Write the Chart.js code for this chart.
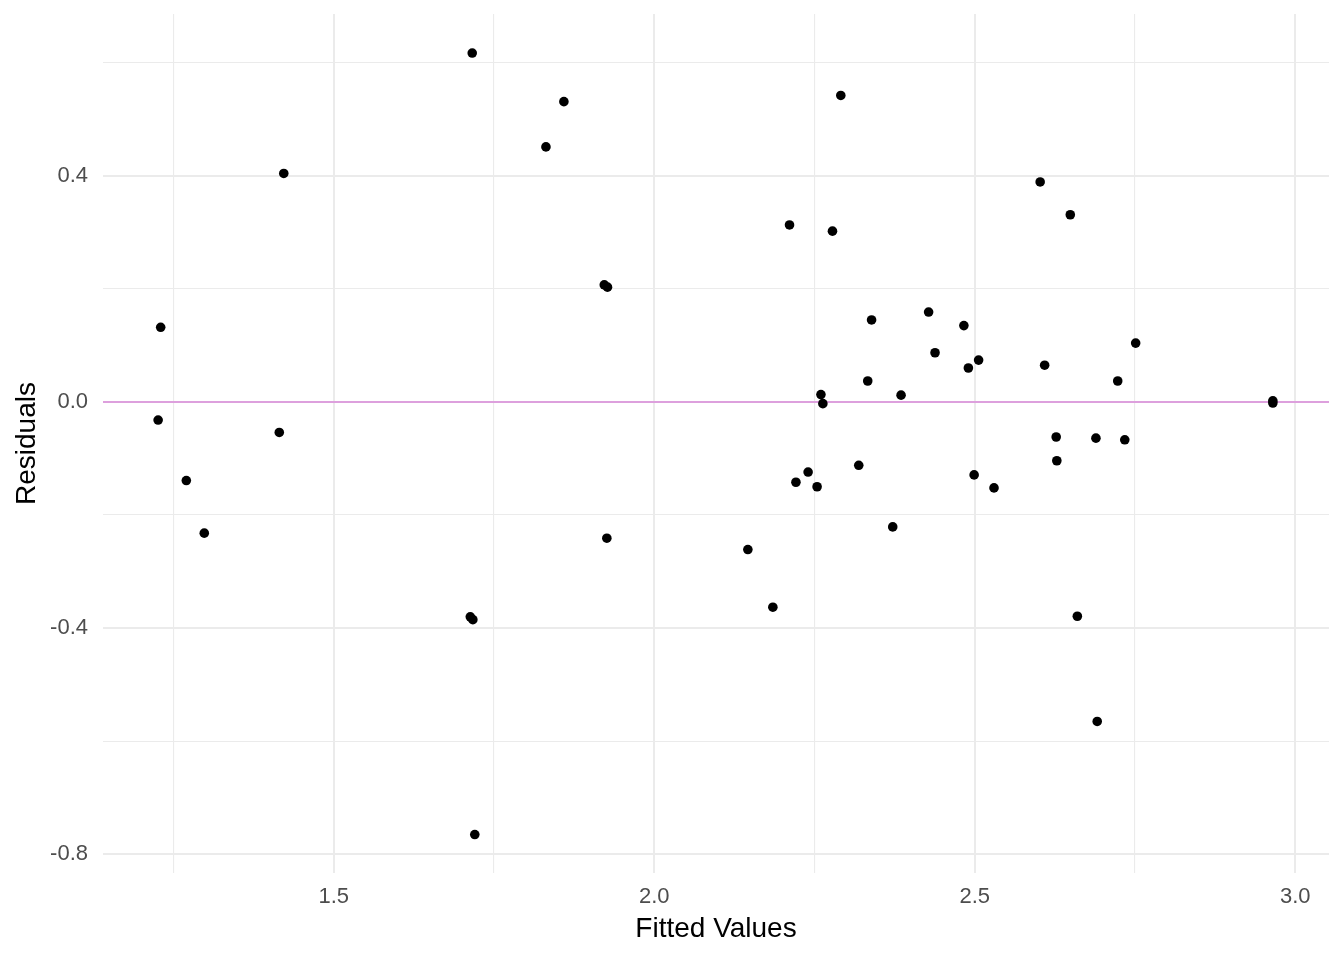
<!DOCTYPE html>
<html lang="en">

<head>
  <meta charset="UTF-8">
  <title>Residuals vs Fitted</title>
  <style>
    body {
      margin: 0;
      background-color: #ffffff;
    }

    #wrap {
      width: 1344px;
      height: 960px;
      position: relative;
    }
  </style>
</head>

<body>
  <div id="wrap">
    <canvas id="residChart"></canvas>
  </div>
  <script src="https://cdn.jsdelivr.net/npm/chart.js@4.4.0/dist/chart.umd.min.js"></script>
  <script>
    // values
    const fittedValues = [
      1.230, 1.226, 1.270, 1.298, 1.422, 1.415, 1.716, 1.713, 1.717, 1.720,
      1.831, 1.859, 1.922, 1.927, 1.926, 2.146, 2.185, 2.211, 2.221, 2.240,
      2.254, 2.260, 2.263, 2.278, 2.291, 2.319, 2.333, 2.339, 2.372, 2.385,
      2.428, 2.438, 2.483, 2.490, 2.499, 2.506, 2.530, 2.602, 2.609, 2.627,
      2.628, 2.649, 2.660, 2.689, 2.691, 2.723, 2.734, 2.751, 2.965, 2.965
    ]
    const residuals = [
      0.132, -0.032, -0.139, -0.232, 0.404, -0.054, 0.617, -0.380, -0.385, -0.765,
      0.451, 0.531, 0.207, 0.203, -0.241, -0.261, -0.363, 0.313, -0.142, -0.124,
      -0.150, 0.013, -0.003, 0.302, 0.542, -0.112, 0.037, 0.145, -0.221, 0.012,
      0.159, 0.087, 0.135, 0.060, -0.129, 0.074, -0.152, 0.389, 0.065, -0.062,
      -0.104, 0.331, -0.379, -0.064, -0.565, 0.037, -0.067, 0.104, 0.002, -0.002
    ]

    // axis breaks
    const xMajor = [1.5, 2.0, 2.5, 3.0]
    const xMinor = [1.25, 1.75, 2.25, 2.75]
    const yMajor = [-0.8, -0.4, 0.0, 0.4]
    const yMinor = [-0.6, -0.2, 0.2, 0.6]
    const xLimits = [1.140, 3.0526]
    const yLimits = [-0.833, 0.686]

    const isIn = (list, v) => list.some(m => Math.abs(m - v) < 1e-6)
    const allBreaks = (a, b) => a.concat(b).sort((p, q) => p - q)

    const points = fittedValues.map((x, i) => ({ x: x, y: residuals[i] }))
    const zeroLine = [{ x: xLimits[0], y: 0 }, { x: xLimits[1], y: 0 }]

    const tickFont = { family: "'Liberation Sans', Arial, sans-serif", size: 22 }
    const titleFont = { family: "'Liberation Sans', Arial, sans-serif", size: 28, lineHeight: 1 }

    const gridOpts = (major) => ({
      color: '#EBEBEB',
      lineWidth: ctx => (ctx.tick && isIn(major, ctx.tick.value)) ? 2 : 1.1,
      drawTicks: false
    })

    // fixed axis sizes, and no extra label overhang padding
    const fixAxis = (scale) => {
      if (scale.isHorizontal()) scale.height = 87
      else scale.width = 103
      scale.paddingTop = 0
      scale.paddingBottom = 0
      scale.paddingLeft = 0
      scale.paddingRight = 0
    }

    const ctx = document.getElementById('residChart').getContext('2d')
    const residChart = new Chart(ctx, {
      type: 'scatter',
      data: {
        datasets: [
          {
            label: 'residuals',
            data: points,
            backgroundColor: '#000000',
            borderWidth: 0,
            pointRadius: 4.8,
            pointHoverRadius: 4.8,
            order: 1
          },
          {
            type: 'line',
            label: 'zero',
            data: zeroLine,
            borderColor: '#DDA0DD',
            borderWidth: 2,
            pointRadius: 0,
            fill: false,
            order: 2
          }
        ]
      },
      options: {
        responsive: true,
        maintainAspectRatio: false,
        animation: false,
        layout: { padding: { top: 14, right: 15, left: 0, bottom: 0 } },
        plugins: {
          legend: { display: false },
          tooltip: { enabled: false }
        },
        scales: {
          x: {
            type: 'linear',
            min: xLimits[0],
            max: xLimits[1],
            afterBuildTicks: scale => {
              scale.ticks = allBreaks(xMajor, xMinor).map(v => ({ value: v }))
            },
            afterFit: fixAxis,
            grid: gridOpts(xMajor),
            border: { display: false },
            ticks: {
              autoSkip: false,
              maxRotation: 0,
              padding: 11,
              color: '#4D4D4D',
              font: tickFont,
              callback: v => isIn(xMajor, v) ? v.toFixed(1) : ''
            },
            title: {
              display: true,
              text: 'Fitted Values',
              color: '#000000',
              font: titleFont,
              padding: { top: 0, bottom: 16.5 }
            }
          },
          y: {
            type: 'linear',
            min: yLimits[0],
            max: yLimits[1],
            afterBuildTicks: scale => {
              scale.ticks = allBreaks(yMajor, yMinor).map(v => ({ value: v }))
            },
            afterFit: fixAxis,
            grid: gridOpts(yMajor),
            border: { display: false },
            ticks: {
              autoSkip: false,
              padding: 15,
              color: '#4D4D4D',
              font: tickFont,
              callback: v => isIn(yMajor, v) ? v.toFixed(1) : ''
            },
            title: {
              display: true,
              text: 'Residuals',
              color: '#000000',
              font: titleFont,
              padding: { top: 13, bottom: 0 }
            }
          }
        }
      }
    })
  </script>
</body>

</html>
